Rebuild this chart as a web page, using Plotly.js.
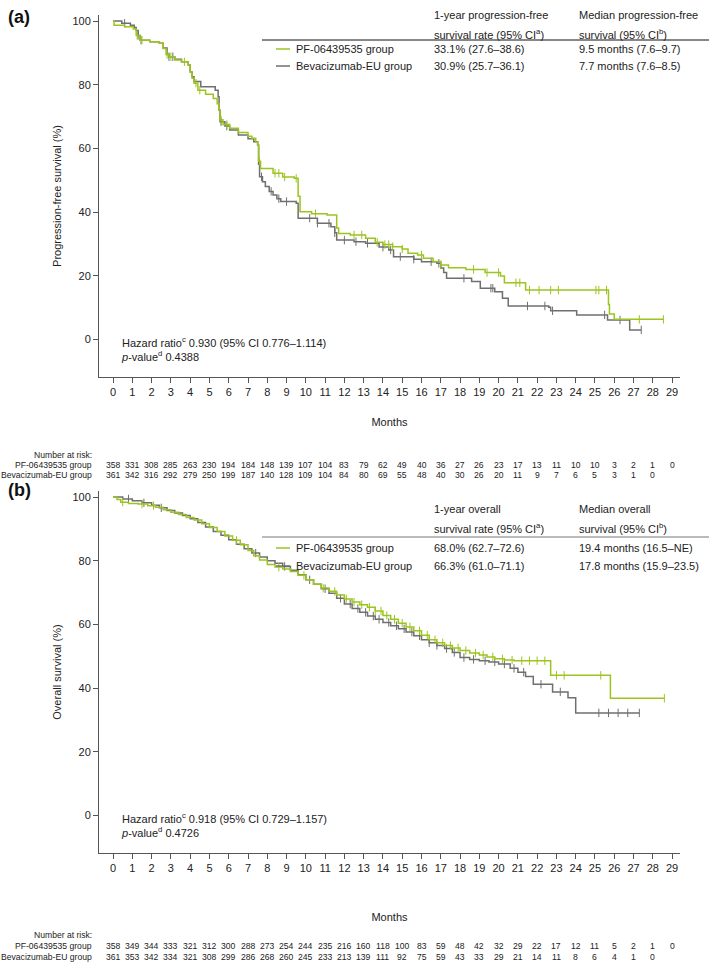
<!DOCTYPE html>
<html><head><meta charset="utf-8">
<script src="https://cdn.plot.ly/plotly-3.0.1.min.js"></script>
<style>html,body{margin:0;padding:0;background:#fff;}#chart{width:709px;height:966px;}</style>
</head><body><div id="chart"></div>
<script>
// ---------- DATA ----------
// Panel (a) progression-free survival, Kaplan-Meier step points (month, %)
const pfsPF_t = [0,0.05,0.6,1.05,1.2,1.4,1.9,2.4,2.6,2.75,2.9,3.2,3.55,3.9,4.0,4.1,4.2,4.4,4.8,5.2,5.4,5.5,5.55,5.7,6.05,6.5,7.0,7.2,7.4,7.5,7.55,7.65,8.3,8.8,9.4,9.6,9.7,10.3,11.1,11.6,11.7,12.3,13.1,13.6,14.0,14.5,15.0,15.3,15.8,16.1,16.6,17.0,17.4,18.3,19.3,20.1,20.3,21.4,25.7,25.75,26.0,28.55];
const pfsPF_v = [100,98.7,98.2,97.5,95.5,94,93.5,93,91.4,89.5,88.8,87.8,87.2,86.2,84,82,80.5,78.3,77,75.7,74,72,69,67.5,66.3,65,63.8,63.2,62,61,56,53.7,52.2,51,50.6,45,40.1,39.5,39.1,35,33.3,32.8,31.8,30.5,29.8,29.1,28.4,27.1,26.5,25.5,24.5,23.4,22.5,22,21,19.9,17.8,15.5,11,8,6.3,6.3];
const pfsBev_t = [0,0.45,0.9,1.1,1.2,1.3,1.4,1.9,2.4,2.6,2.8,2.9,3.2,3.55,3.9,4.0,4.1,4.2,4.55,5.3,5.45,5.5,5.55,5.8,6.05,6.5,7.0,7.3,7.5,7.55,7.6,7.75,7.9,8.1,8.3,8.5,8.7,9.5,9.6,10.6,11.3,11.5,11.6,12.5,13.1,13.8,14.3,14.55,15.6,16.0,16.8,17.0,17.15,17.3,18.6,19.05,19.8,20.2,20.5,22.6,22.7,24.05,25.65,26.8,27.4];
const pfsBev_v = [100,99.3,98.7,98,97,95.5,94,93.5,93,91.5,89.5,88.8,88,87.2,86.2,84,82.5,81,79.4,78.3,76.2,72,68.4,67,65.8,64.2,63,62.1,61,55,51.1,49.5,48,46.5,45.4,44.2,43.3,42.8,38.1,36.5,35.4,33.5,31.2,30.7,30.2,29,28.1,26,25.2,24.4,23.9,22.4,21,19.2,18.2,16.1,15,12.9,10.5,10.1,9.0,7.7,6.1,3.0,3.0];
const pfsPF_cens = [1.25,1.5,2.8,3.0,3.7,4.3,4.5,5.6,5.9,7.6,8.4,8.6,8.9,9.5,10.5,12.5,12.9,13.7,14.1,14.3,14.5,15.0,16.0,17.0,18.7,19.4,20.0,20.9,21.1,21.6,22.1,22.7,23.1,25.05,25.2,25.6,27.3,28.55];
const pfsBev_cens = [0.6,1.3,1.45,2.9,3.1,5.6,5.9,7.7,8.2,8.6,9.0,10.2,10.6,11.2,11.5,12.0,12.6,13.2,14.0,14.4,14.9,15.6,16.5,16.9,18.2,19.6,19.7,21.5,22.4,22.8,25.5,26.3,27.4];

// Panel (b) overall survival
const osPF_t = [0,0.2,0.4,0.8,1.3,1.8,2.2,2.6,3.0,3.4,3.8,4.2,4.6,5.0,5.4,5.8,6.2,6.6,7.0,7.3,7.6,8.0,8.4,8.8,9.2,9.6,10.0,10.4,10.8,11.2,11.6,12.0,12.4,12.8,13.2,13.6,14.0,14.4,14.8,15.2,15.6,16.0,16.4,16.8,17.2,17.6,18.0,18.5,19.0,19.4,19.8,20.3,20.8,22.7,25.8,28.6];
const osPF_v = [100,99.2,98.4,98.0,97.8,97.3,96.8,96.0,95.2,94.5,93.6,92.8,91.6,90.4,89.2,87.8,86.4,85.0,83.2,81.6,80.2,78.8,78.0,77.4,76.6,75.4,74.0,72.6,71.4,70.4,69.2,68.0,67.0,66.2,65.4,64.2,62.8,61.6,60.4,59.2,58.0,56.6,55.2,54.2,53.4,52.6,51.8,51.0,50.4,49.8,49.2,48.8,48.6,44.0,36.8,36.8];
const osBev_t = [0,0.5,1.0,1.5,2.0,2.4,2.8,3.2,3.6,4.0,4.4,4.8,5.2,5.6,6.0,6.4,6.8,7.2,7.6,8.0,8.4,8.8,9.2,9.6,10.0,10.4,10.8,11.2,11.6,12.0,12.4,12.8,13.2,13.6,14.0,14.4,14.8,15.2,15.6,16.0,16.4,16.8,17.2,17.6,18.0,18.5,19.0,19.5,20.0,20.6,21.0,21.4,21.8,22.8,23.6,24.0,27.3];
const osBev_v = [100,99.4,98.8,98.2,97.4,96.6,95.8,95.0,94.2,93.2,92.0,90.6,89.2,88.0,86.6,85.2,83.8,82.4,81.2,80.0,79.2,78.2,77.0,75.6,74.0,72.6,71.2,69.8,68.2,66.4,65.0,63.8,62.6,61.6,60.6,59.6,58.6,57.6,56.4,55.2,54.2,53.4,52.4,51.2,49.6,49.0,48.6,48.2,47.6,46.2,45.0,43.6,41.2,38.8,37.0,32.2,32.2];
const osPF_cens = [0.5,1.5,2.1,6.4,8.6,9.9,10.9,11.5,12.1,12.5,12.9,13.3,13.6,13.9,14.2,14.6,15.0,15.4,15.9,16.3,16.7,17.1,17.5,17.9,18.3,18.8,19.2,19.7,20.2,20.7,21.2,21.6,22.0,22.4,23.0,23.4,25.3,28.6];
const osBev_cens = [0.8,1.6,2.5,7.4,8.9,10.2,11.0,11.8,12.3,12.7,13.1,13.5,13.8,14.3,14.7,15.1,15.5,15.9,16.4,16.8,17.3,17.7,18.2,18.7,19.3,19.8,20.3,20.8,21.3,22.2,23.2,25.2,25.7,26.2,26.7,27.3];

// Number at risk
const riskMonths = [0,1,2,3,4,5,6,7,8,9,10,11,12,13,14,15,16,17,18,19,20,21,22,23,24,25,26,27,28,29];
const riskA_PF  = [358,331,308,285,263,230,194,184,148,139,107,104,83,79,62,49,40,36,27,26,23,17,13,11,10,10,3,2,1,0];
const riskA_Bev = [361,342,316,292,279,250,199,187,140,128,109,104,84,80,69,55,48,40,30,26,20,11,9,7,6,5,3,1,0];
const riskB_PF  = [358,349,344,333,321,312,300,288,273,254,244,235,216,160,118,100,83,59,48,42,32,29,22,17,12,11,5,2,1,0];
const riskB_Bev = [361,353,342,334,321,308,299,286,268,260,245,233,213,139,111,92,75,59,43,33,29,21,14,11,8,6,4,1,0];

const groupNames = ['PF-06439535 group','Bevacizumab-EU group'];
const tableA = {h1:['1-year progression-free','survival rate (95% CI<sup>a</sup>)'], h2:['Median progression-free','survival (95% CI<sup>b</sup>)'],
  c1:['33.1% (27.6–38.6)','30.9% (25.7–36.1)'], c2:['9.5 months (7.6–9.7)','7.7 months (7.6–8.5)']};
const tableB = {h1:['1-year overall','survival rate (95% CI<sup>a</sup>)'], h2:['Median overall','survival (95% CI<sup>b</sup>)'],
  c1:['68.0% (62.7–72.6)','66.3% (61.0–71.1)'], c2:['19.4 months (16.5–NE)','17.8 months (15.9–23.5)']};
const hrA = 'Hazard ratio<sup>c</sup> 0.930 (95% CI 0.776–1.114)<br><i>p</i>-value<sup>d</sup> 0.4388';
const hrB = 'Hazard ratio<sup>c</sup> 0.918 (95% CI 0.729–1.157)<br><i>p</i>-value<sup>d</sup> 0.4726';

// ---------- STYLE / LAYOUT ----------
const W=709, H=966, ML=99, MR=29;
const PW = W-ML-MR;
const GREEN='#9CC41E', GRAY='#6F6F6F', AX='#555555';
const FONT='"Liberation Sans", Arial, sans-serif';
const py = px => 1 - px/H;
const pxx = px => (px-ML)/PW;

// per-panel vertical positions (pixels from top)
const PA = {top:15, label:17, h1:15, h2:34, rule:40, rows:[49,66], hr:333, months:421, nar:455, risk:[465,475]};
const PB = {top:491, label:490, h1:509, h2:528, rule:537, rows:[548,566], hr:809, months:916, nar:935, risk:[946,957]};
const PLOT_H = 362;

function kmAt(ts, vs, t){ let v=vs[0]; for(let i=0;i<ts.length;i++){ if(ts[i]<=t) v=vs[i]; else break;} return v; }

function curve(ts, vs, color, xa, ya){
  return {x:ts, y:vs, type:'scatter', mode:'lines', line:{shape:'hv', color:color, width:1.5}, xaxis:xa, yaxis:ya, hoverinfo:'skip', showlegend:false};
}
function cens(cs, ts, vs, color, xa, ya){
  return {x:cs, y:cs.map(t=>kmAt(ts,vs,t)), type:'scatter', mode:'markers', marker:{symbol:'line-ns', size:6, line:{width:1, color:color}, color:color}, xaxis:xa, yaxis:ya, hoverinfo:'skip', showlegend:false};
}

const traces = [
  curve(pfsBev_t,pfsBev_v,GRAY,'x','y'), cens(pfsBev_cens,pfsBev_t,pfsBev_v,GRAY,'x','y'),
  curve(pfsPF_t,pfsPF_v,GREEN,'x','y'), cens(pfsPF_cens,pfsPF_t,pfsPF_v,GREEN,'x','y'),
  curve(osBev_t,osBev_v,GRAY,'x2','y2'), cens(osBev_cens,osBev_t,osBev_v,GRAY,'x2','y2'),
  curve(osPF_t,osPF_v,GREEN,'x2','y2'), cens(osPF_cens,osPF_t,osPF_v,GREEN,'x2','y2'),
];

function xax(anchor, P){
  const axisPx = P.top + PLOT_H;
  return {anchor:anchor, domain:[0,1], range:[-0.73,29.41], tickmode:'array', tickvals:riskMonths, ticktext:riskMonths.map(String),
    showline:true, linecolor:AX, linewidth:1, ticks:'outside', ticklen:5, tickcolor:AX, showgrid:false, zeroline:false,
    tickfont:{family:FONT,size:11,color:'#222'},
    title:{text:'Months', font:{family:FONT,size:11,color:'#222'}, standoff:Math.max(0, P.months - axisPx - 23)}};
}
function yax(anchor, P, title){
  return {anchor:anchor, domain:[py(P.top+PLOT_H), py(P.top)], range:[-11.8,101.9], tickvals:[0,20,40,60,80,100],
    showline:true, linecolor:AX, linewidth:1, ticks:'outside', ticklen:5, tickcolor:AX, showgrid:false, zeroline:false,
    tickfont:{family:FONT,size:11,color:'#222'},
    title:{text:title, font:{family:FONT,size:11,color:'#222'}, standoff:8}};
}

const annotations = [], shapes = [];
function ann(x, y, text, opts){ annotations.push(Object.assign({xref:'paper', yref:'paper', x:x, y:y, text:text, showarrow:false, xanchor:'left', yanchor:'middle', align:'left', font:{family:FONT,size:11,color:'#222'}}, opts||{})); }
const SMALL = {family:FONT,size:8.6,color:'#222'};

function panel(P, label, table, hr, riskPF, riskBev, xa, lineColor){
  ann(pxx(6), py(P.label), '<b>'+label+'</b>', {font:{family:FONT,size:18,color:'#111'}});
  ann(pxx(432), py(P.h1), table.h1[0]); ann(pxx(432), py(P.h2), table.h1[1]);
  ann(pxx(577), py(P.h1), table.h2[0]); ann(pxx(577), py(P.h2), table.h2[1]);
  shapes.push({type:'line', xref:'paper', yref:'paper', x0:pxx(262), x1:pxx(709), y0:py(P.rule), y1:py(P.rule), line:{color:lineColor, width:1}});
  const cols=[GREEN,GRAY];
  for(let i=0;i<2;i++){
    const r = P.rows[i];
    shapes.push({type:'line', xref:'paper', yref:'paper', x0:pxx(276), x1:pxx(290), y0:py(r), y1:py(r), line:{color:cols[i], width:1.5}});
    ann(pxx(294), py(r), groupNames[i]);
    ann(pxx(432), py(r), table.c1[i]);
    ann(pxx(577), py(r), table.c2[i]);
  }
  ann(pxx(119), py(P.hr), hr, {yanchor:'top'});
  ann(pxx(94), py(P.nar), 'Number at risk:', {xanchor:'right', font:SMALL});
  ann(pxx(94), py(P.risk[0]), groupNames[0], {xanchor:'right', font:SMALL});
  ann(pxx(94), py(P.risk[1]), groupNames[1], {xanchor:'right', font:SMALL});
  riskPF.forEach((n,i)=>annotations.push({xref:xa, yref:'paper', x:riskMonths[i], y:py(P.risk[0]), text:String(n), showarrow:false, xanchor:'center', yanchor:'middle', font:SMALL}));
  riskBev.forEach((n,i)=>annotations.push({xref:xa, yref:'paper', x:riskMonths[i], y:py(P.risk[1]), text:String(n), showarrow:false, xanchor:'center', yanchor:'middle', font:SMALL}));
}
panel(PA,'(a)',tableA,hrA,riskA_PF,riskA_Bev,'x','#111');
panel(PB,'(b)',tableB,hrB,riskB_PF,riskB_Bev,'x2','#777');

const layout = {
  width:W, height:H, margin:{l:ML, r:MR, t:0, b:0}, paper_bgcolor:'#fff', plot_bgcolor:'#fff',
  showlegend:false, font:{family:FONT, size:11, color:'#222'},
  xaxis: xax('y', PA), yaxis: yax('x', PA, 'Progression-free survival (%)'),
  xaxis2: xax('y2', PB), yaxis2: yax('x2', PB, 'Overall survival (%)'),
  annotations: annotations, shapes: shapes
};
Plotly.newPlot('chart', traces, layout, {staticPlot:true, displayModeBar:false});
</script></body></html>
